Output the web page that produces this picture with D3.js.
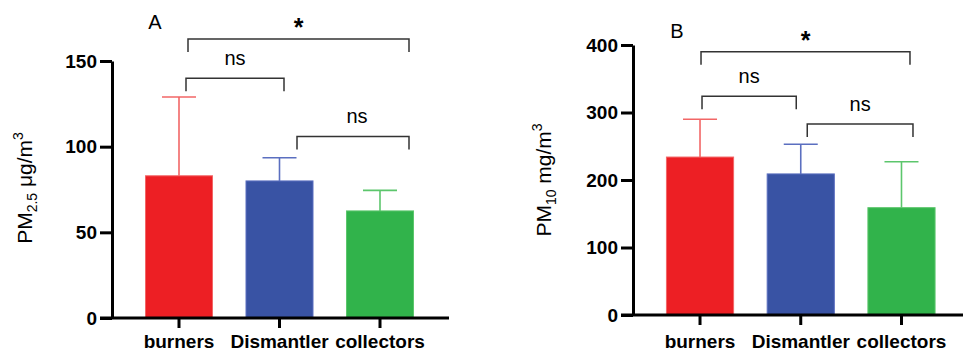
<!DOCTYPE html>
<html>
<head>
<meta charset="utf-8">
<script src="https://cdn.jsdelivr.net/npm/d3@7"></script>
<style>
	body { margin: 0; background: #fff; }
	svg { display: block; font-family: "Liberation Sans", Arial, sans-serif; }
</style>
</head>
<body>
<svg id="chart" width="963" height="352"></svg>
<script>
// data
var categories = ["burners", "Dismantler", "collectors"];
var pm25Mean = [83, 80, 62.5];
var pm25Upper = [129, 93.5, 74.5];
var pm10Mean = [234, 209, 159];
var pm10Upper = [290, 253, 227];
var pm25Ticks = [0, 50, 100, 150];
var pm10Ticks = [0, 100, 200, 300, 400];
var comparisons = [[0, 2, "*"], [0, 1, "ns"], [1, 2, "ns"]];

var barColors = ["#ed1f24", "#3953a4", "#31b34b"];
var errColors = ["#f26666", "#5b6fc0", "#5cc66c"];

// Draw one panel
function drawPanel(svg, p) {
	var g = svg.append("g");

	var x = d3.scaleBand()
		.domain(categories)
		.range(p.xRange)
		.paddingInner(1 / 3)
		.paddingOuter(1 / 6);

	var y = d3.scaleLinear()
		.domain(p.yDomain)
		.range(p.yRange);

	var data = categories.map(function(c, i) {
		return {name: c, mean: p.mean[i], upper: p.upper[i], i: i};
	});

	// error bars (upper only), drawn under bars
	g.selectAll(".err")
		.data(data)
	  .enter().append("line")
		.attr("x1", function(d) { return x(d.name) + x.bandwidth() / 2; })
		.attr("x2", function(d) { return x(d.name) + x.bandwidth() / 2; })
		.attr("y1", function(d) { return y(d.mean); })
		.attr("y2", function(d) { return y(d.upper); })
		.attr("stroke", function(d) { return errColors[d.i]; })
		.attr("stroke-width", 1.6);

	g.selectAll(".cap")
		.data(data)
	  .enter().append("line")
		.attr("x1", function(d) { return x(d.name) + x.bandwidth() / 2 - 17; })
		.attr("x2", function(d) { return x(d.name) + x.bandwidth() / 2 + 17; })
		.attr("y1", function(d) { return y(d.upper); })
		.attr("y2", function(d) { return y(d.upper); })
		.attr("stroke", function(d) { return errColors[d.i]; })
		.attr("stroke-width", 1.6);

	// bars
	g.selectAll(".bar")
		.data(data)
	  .enter().append("rect")
		.attr("x", function(d) { return x(d.name); })
		.attr("width", x.bandwidth())
		.attr("y", function(d) { return y(d.mean); })
		.attr("height", function(d) { return y(0) - y(d.mean); })
		.attr("fill", function(d) { return barColors[d.i]; })
		.attr("stroke", function(d) { return errColors[d.i]; })
		.attr("stroke-width", 1);

	// y axis
	var yAxis = d3.axisLeft(y)
		.tickValues(p.ticks)
		.tickSize(12)
		.tickSizeOuter(0)
		.tickPadding(3);

	var ya = g.append("g")
		.attr("transform", "translate(" + p.axisX + ",0)")
		.call(yAxis);
	ya.select(".domain").attr("stroke", "#000").attr("stroke-width", 3);
	ya.selectAll(".tick line").attr("stroke", "#000").attr("stroke-width", 3);
	ya.selectAll(".tick text")
		.attr("fill", "#000")
		.style("font-size", "19px")
		.style("font-weight", "bold")
		.style("font-family", "'Liberation Sans', Arial, sans-serif");

	// x axis
	g.append("line")
		.attr("x1", p.axisX - 12)
		.attr("x2", p.xAxisEnd)
		.attr("y1", y(0))
		.attr("y2", y(0))
		.attr("stroke", "#000")
		.attr("stroke-width", 3);

	var xAxis = d3.axisBottom(x)
		.tickSize(10)
		.tickSizeOuter(0);

	var xa = g.append("g")
		.attr("transform", "translate(0," + y(0) + ")")
		.call(xAxis);
	xa.select(".domain").remove();
	xa.selectAll(".tick line").attr("stroke", "#000").attr("stroke-width", 3);
	xa.selectAll(".tick text")
		.attr("fill", "#000")
		.attr("y", p.xLabelY - y(0))
		.attr("dy", 0)
		.style("font-size", "19px")
		.style("font-weight", "bold")
		.style("font-family", "'Liberation Sans', Arial, sans-serif");

	// y title
	var t = g.append("text")
		.attr("transform", "translate(" + p.titleX + "," + p.titleY + ") rotate(-90)")
		.attr("text-anchor", "middle")
		.style("font-size", "21px");
	t.append("tspan").text("PM");
	t.append("tspan").attr("dy", 5).style("font-size", "14px").text(p.sub);
	t.append("tspan").attr("dy", -5).text("\u00a0" + p.unit + "/m");
	t.append("tspan").attr("dy", -9).style("font-size", "14px").text("3");

	// panel letter
	g.append("text")
		.attr("x", p.letterX)
		.attr("y", p.letterY)
		.attr("text-anchor", "middle")
		.style("font-size", "20px")
		.text(p.letter);

	// significance brackets
	comparisons.forEach(function(c, k) {
		var b = p.brackets[k];
		var x0 = x(categories[c[0]]) + x.bandwidth() / 2 + b.dx0;
		var x1 = x(categories[c[1]]) + x.bandwidth() / 2 + b.dx1;
		var by = y(b.level);
		g.append("path")
			.attr("d", "M" + x0 + "," + (by + 13) + "V" + by + "H" + x1 + "V" + (by + 13))
			.attr("fill", "none")
			.attr("stroke", "#333")
			.attr("stroke-width", 1.5);
		var star = c[2] == "*";
		g.append("text")
			.attr("x", (x0 + x1) / 2 + b.tdx)
			.attr("y", star ? by - 3 : by - 13)
			.attr("text-anchor", "middle")
			.style("font-size", star ? "25px" : "20px")
			.style("font-weight", star ? "bold" : "normal")
			.text(c[2]);
	});
}

var svg = d3.select("#chart");

drawPanel(svg, {
	letter: "A", letterX: 155, letterY: 29,
	mean: pm25Mean, upper: pm25Upper, ticks: pm25Ticks,
	yDomain: [0, 150], yRange: [318, 61],
	xRange: [128.75, 430.25], axisX: 112, xAxisEnd: 449, xLabelY: 348,
	titleX: 32, titleY: 188, sub: "2.5", unit: "\u03bcg",
	brackets: [
		{level: 162.8, dx0: 9, dx1: 29, tdx: 0},
		{level: 140, dx0: 7, dx1: 4.5, tdx: 0},
		{level: 106, dx0: 17.5, dx1: 29, tdx: 4}
	]
});

drawPanel(svg, {
	letter: "B", letterX: 677, letterY: 38,
	mean: pm10Mean, upper: pm10Upper, ticks: pm10Ticks,
	yDomain: [0, 400], yRange: [315, 45],
	xRange: [649.65, 951.85], axisX: 633, xAxisEnd: 963, xLabelY: 348,
	titleX: 551, titleY: 180, sub: "10", unit: "mg",
	brackets: [
		{level: 390, dx0: 1, dx1: 8.5, tdx: 0},
		{level: 324, dx0: 2, dx1: -4.5, tdx: 0},
		{level: 283, dx0: 6.5, dx1: 11.5, tdx: 0}
	]
});
</script>
</body>
</html>
